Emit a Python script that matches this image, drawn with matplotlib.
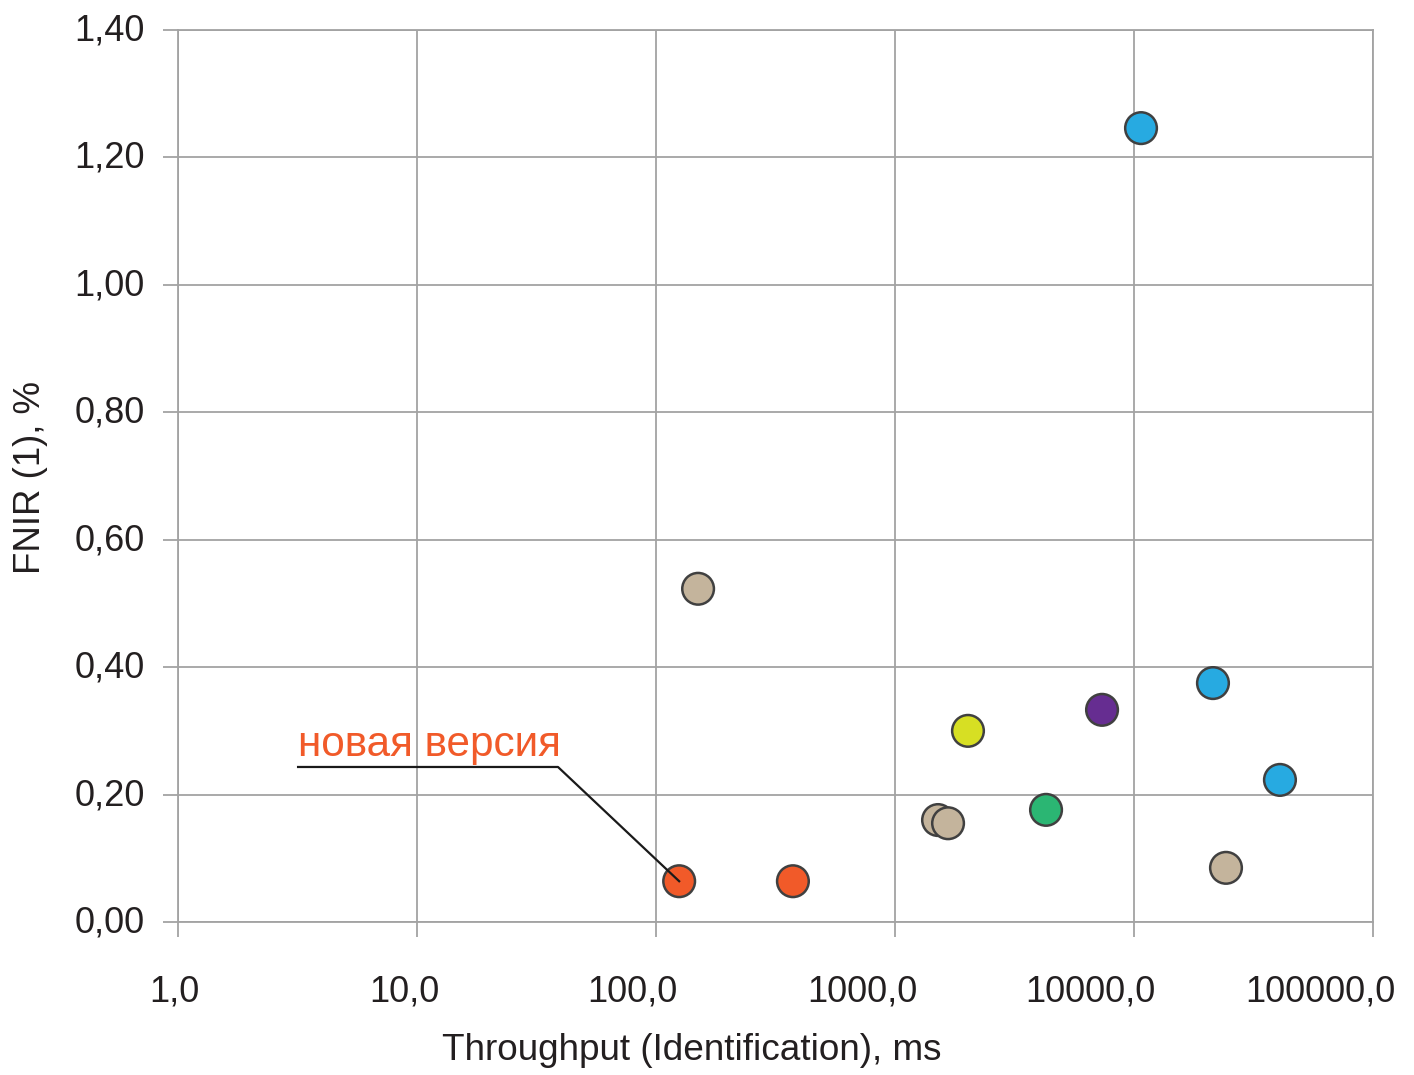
import matplotlib
matplotlib.use("Agg")
import matplotlib.pyplot as plt
import matplotlib.transforms as mtransforms
from matplotlib.ticker import FixedLocator, FixedFormatter, NullLocator

plt.rcParams['font.family'] = ['Liberation Sans', 'DejaVu Sans']

throughput = [150, 125, 374, 1514, 1667, 2020, 4285, 7350, 10700, 21400, 40800, 24260]
fnir = [0.523, 0.064, 0.064, 0.160, 0.155, 0.300, 0.176, 0.333, 1.246, 0.375, 0.223, 0.085]
colors = ['#c4b49c', '#f15a29', '#f15a29', '#c4b49c', '#c4b49c', '#d7df23',
          '#2bb673', '#662d91', '#27aae1', '#27aae1', '#27aae1', '#c4b49c']

x_ticks = [1, 10, 100, 1000, 10000, 100000]
x_labels = ['1,0', '10,0', '100,0', '1000,0', '10000,0', '100000,0']
y_ticks = [0.0, 0.2, 0.4, 0.6, 0.8, 1.0, 1.2, 1.4]
y_labels = ['0,00', '0,20', '0,40', '0,60', '0,80', '1,00', '1,20', '1,40']

annot_text = 'новая версия'
annot_target = (125, 0.064)
annot_elbow = (38.9, 0.2433)
annot_start = (3.18, 0.2433)
annot_text_y = 0.2606

fig = plt.figure(figsize=(14.14, 10.75), dpi=100)
ax = fig.add_axes([178/1414, 1-922/1075, (1373-178)/1414, (922-30)/1075])
ax.set_xscale('log')
ax.set_xlim(1, 100000)
ax.set_ylim(0, 1.4)

grid_c = '#a3a3a3'
txt_c = '#231f20'
ax.xaxis.set_major_locator(FixedLocator(x_ticks))
ax.xaxis.set_major_formatter(FixedFormatter(x_labels))
ax.xaxis.set_minor_locator(NullLocator())
ax.set_yticks(y_ticks)
ax.set_yticklabels(y_labels)
ax.grid(True, color=grid_c, linewidth=1.3)
ax.set_axisbelow(True)
for s in ax.spines.values():
    s.set_color(grid_c)
    s.set_linewidth(1.3)
ax.tick_params(axis='both', colors=grid_c, labelcolor=txt_c, labelsize=26,
               length=10.8, width=1.3)
ax.tick_params(axis='x', pad=27)
ax.tick_params(axis='y', pad=13)

# x tick labels right-aligned just past their tick, y labels nudged up
xoff = mtransforms.ScaledTranslation(22/100, 0, fig.dpi_scale_trans)
for tick in ax.xaxis.get_major_ticks():
    tick.label1.set_horizontalalignment('right')
    tick.label1.set_transform(tick.label1.get_transform() + xoff)
yoff = mtransforms.ScaledTranslation(0, 3/100, fig.dpi_scale_trans)
for tick in ax.yaxis.get_major_ticks():
    tick.label1.set_transform(tick.label1.get_transform() + yoff)

ax.scatter(throughput, fnir, s=520, c=colors, edgecolors='#404040',
           linewidths=1.8, zorder=3)

ax.plot([annot_start[0], annot_elbow[0], annot_target[0]],
        [annot_start[1], annot_elbow[1], annot_target[1]],
        color='#1a1a1a', linewidth=1.6, zorder=4)
ax.text(annot_start[0], annot_text_y, annot_text, color='#f15a29',
        fontsize=30.4, ha='left', va='baseline')

ax.set_xlabel('Throughput (Identification), ms', fontsize=26.6, color=txt_c)
ax.xaxis.set_label_coords((692-178)/1195, (922-1033)/892)
ax.set_ylabel('FNIR (1), %', fontsize=26.4, color=txt_c)
ax.yaxis.set_label_coords((48-178)/1195, (922-477)/892)

fig.savefig('out.png', dpi=100)
